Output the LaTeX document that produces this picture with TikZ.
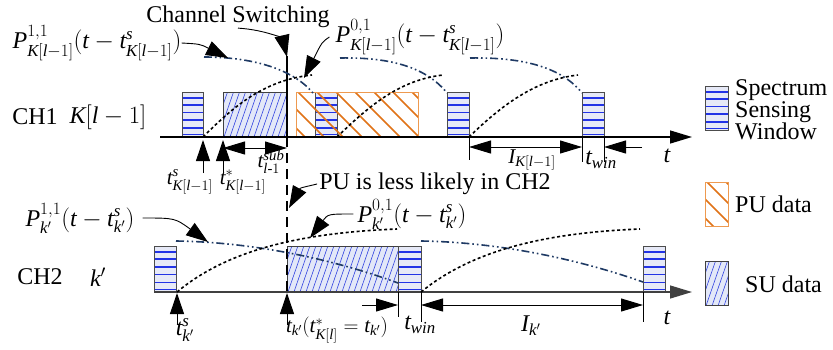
\documentclass[tikz,border=0pt]{standalone}
\usepackage{amsmath}
\usepackage{fontspec}
\setmainfont{Liberation Serif}
\usetikzlibrary{arrows.meta,calc}
\newcommand\vP{\mathit{P}}
\newcommand\vt{\mathit{t}}
\newcommand\vK{\mathit{K}}
\newcommand\vl{\mathit{l}}
\newcommand\vk{\mathit{k}}
\newcommand\vs{\mathit{s}}
\newcommand\vI{\mathit{I}}
\newcommand\vKl{\vK[\vl-1]}
\definecolor{sensefill}{HTML}{E6E9F7}
\definecolor{stripeblue}{HTML}{2233E6}
\definecolor{sufill}{HTML}{E3E8F8}
\definecolor{suline}{HTML}{3344E0}
\definecolor{puline}{HTML}{E07318}
\definecolor{puedge}{HTML}{EE9A50}
\definecolor{navy}{HTML}{1F3A64}
\begin{document}
\begin{tikzpicture}[x=1pt,y=-1pt,
  >={Triangle[length=22pt,width=13pt]},
  every node/.style={font=\fontsize{24}{26}\selectfont, inner sep=0pt},
  small/.style={font=\fontsize{21}{23}\selectfont},
  sensewin/.style={draw=black!70, line width=0.8pt, fill=sensefill, anchor=south west,
    minimum width=22pt, minimum height=44pt,
    path picture={\foreach \f in {0.05,0.2,0.38,0.55,0.72,0.88}{
      \draw[stripeblue, line width=1.5pt]
        ($(path picture bounding box.south west)!\f!(path picture bounding box.north west)$) --
        ($(path picture bounding box.south east)!\f!(path picture bounding box.north east)$);}}},
  suhatch/.style={draw=black!75, line width=0.8pt, fill=sufill, anchor=south west,
    minimum height=44pt,
    path picture={\foreach \i in {-4,...,22}{
      \draw[suline, line width=0.6pt] ($(path picture bounding box.south west)+(\i*6,2)$) -- ++(18,-52);}}},
  puhatch/.style={draw=puedge, line width=1pt, anchor=south west, minimum height=44pt,
    path picture={\foreach \i in {-3,...,8}{
      \draw[puline, line width=1.6pt] ($(path picture bounding box.north west)+(\i*19,-2)$) -- ++(52,52);}}},
  axisline/.style={line width=1.3pt, ->},
  tick/.style={line width=0.9pt},
  uparrow/.style={line width=1pt, -{Triangle[length=21pt,width=14pt]}},
  dimarrow/.style={line width=1pt, {Triangle[length=22pt,width=13pt]}-{Triangle[length=22pt,width=13pt]}},
  onearrow/.style={line width=1pt, -{Triangle[length=22pt,width=13pt]}},
  labarrow/.style={line width=0.9pt, -{Triangle[length=22pt,width=15pt]}},
  decay/.style={navy, line width=1.6pt, dash pattern=on 8pt off 3pt on 1.6pt off 3pt on 1.6pt off 3pt},
  rise/.style={black, line width=1.6pt, dash pattern=on 3pt off 2.5pt},
]
\path[use as bounding box] (0,0) rectangle (833,349);

% ---------- CH1 ----------
\node[sensewin, minimum width=21pt] (w1) at (182,137) {};
\node[suhatch, minimum width=64pt] (su1) at (223,137) {};
\node[draw=puedge, fill=white, line width=1pt, anchor=south west, minimum width=122pt, minimum height=44pt] (pub) at (296,137) {};
\node[sensewin] (w2) at (315,137) {};
\node[puhatch, minimum width=122pt] (pu1) at (296,137) {};
\node[sensewin] (w3) at (447,137) {};
\node[sensewin] (w4) at (582,137) {};

\coordinate (a1s) at (160,137);
\coordinate (a1e) at (692,137);
\draw[axisline] (a1s) -- (a1e);

% ---------- CH2 ----------
\node[sensewin, minimum width=22pt, minimum height=45pt] (v1) at (154,292) {};
\node[suhatch, minimum width=111pt, minimum height=45pt] (su2) at (287,292) {};
\node[sensewin, minimum width=23pt, minimum height=45pt] (v2) at (398,292) {};
\node[sensewin, minimum width=22pt, minimum height=45pt] (v3) at (643,292) {};

\coordinate (a2s) at (154,292);
\coordinate (a2e) at (692,292);
\draw[axisline, black!75] (a2s) -- (a2e);

% ---------- switching line ----------
\coordinate (swtop) at (287,56);
\coordinate (swmid) at (287,137);
\coordinate (swbot) at (287,292);
\draw[line width=2.4pt] (swtop) -- (swmid);
\draw[line width=2.4pt, dash pattern=on 10pt off 6pt] (swmid) -- (swbot);

% ---------- curves CH1 ----------
\coordinate (d1a) at (204,57);  \coordinate (d1b) at (313,93);
\coordinate (d2a) at (340,58);  \coordinate (d2b) at (447,93);
\coordinate (d3a) at (470,58);  \coordinate (d3b) at (582,93);
\draw[decay] (d1a) .. controls (250,57) and (292,68) .. (d1b);
\draw[decay] (d2a) .. controls (392,57) and (427,68) .. (d2b);
\draw[decay] (d3a) .. controls (525,57) and (562,68) .. (d3b);
\coordinate (r1a) at (203,137); \coordinate (r1b) at (312,75);
\coordinate (r2a) at (337,137); \coordinate (r2b) at (443,75);
\coordinate (r3a) at (469,137); \coordinate (r3b) at (578,75);
\draw[rise] (r1a) .. controls (235,105) and (265,80) .. (r1b);
\draw[rise] (r2a) .. controls (370,105) and (400,80) .. (r2b);
\draw[rise] (r3a) .. controls (502,105) and (535,80) .. (r3b);

% ---------- curves CH2 ----------
\coordinate (e1a) at (176,241); \coordinate (e1b) at (398,283);
\coordinate (e2a) at (421,241); \coordinate (e2b) at (643,282);
\draw[decay] (e1a) .. controls (250,242) and (330,258) .. (e1b);
\draw[decay] (e2a) .. controls (495,242) and (575,258) .. (e2b);
\coordinate (s1a) at (177,292); \coordinate (s1b) at (397,229);
\coordinate (s2a) at (421,292); \coordinate (s2b) at (640,229);
\draw[rise] (s1a) .. controls (225,252) and (295,233) .. (s1b);
\draw[rise] (s2a) .. controls (470,252) and (540,233) .. (s2b);

% ---------- CH1 time marks ----------
\coordinate (u1b) at (203,173); \coordinate (u1t) at (203,140);
\coordinate (u2b) at (223,173); \coordinate (u2t) at (223,140);
\draw[uparrow] (u1b) -- (u1t);
\draw[uparrow] (u2b) -- (u2t);
\coordinate (sub1) at (223,148); \coordinate (sub2) at (287,148);
\draw[dimarrow] (sub1) -- (sub2);
\coordinate (k1a) at (469,137); \coordinate (k1b) at (469,160);
\coordinate (k2a) at (582,137); \coordinate (k2b) at (582,162);
\coordinate (k3a) at (604,137); \coordinate (k3b) at (604,162);
\draw[tick] (k1a) -- (k1b);
\draw[tick] (k2a) -- (k2b);
\draw[tick] (k3a) -- (k3b);
\coordinate (i1a) at (469,147); \coordinate (i1b) at (582,147);
\draw[dimarrow] (i1a) -- (i1b);
\coordinate (tw1a) at (642,147); \coordinate (tw1b) at (604,147);
\draw[onearrow] (tw1a) -- (tw1b);

% ---------- CH2 time marks ----------
\coordinate (u3b) at (177,325); \coordinate (u3t) at (177,293);
\coordinate (u4b) at (287,325); \coordinate (u4t) at (287,293);
\draw[uparrow] (u3b) -- (u3t);
\draw[uparrow] (u4b) -- (u4t);
\coordinate (m1a) at (398,292); \coordinate (m1b) at (398,317);
\coordinate (m2a) at (421,292); \coordinate (m2b) at (421,322);
\coordinate (m3a) at (643,292); \coordinate (m3b) at (643,322);
\draw[tick] (m1a) -- (m1b);
\draw[tick] (m2a) -- (m2b);
\draw[tick] (m3a) -- (m3b);
\coordinate (tw2a) at (362,305); \coordinate (tw2b) at (398,305);
\draw[onearrow] (tw2a) -- (tw2b);
\coordinate (i2a) at (421,305); \coordinate (i2b) at (643,305);
\draw[dimarrow] (i2a) -- (i2b);

% ---------- labels ----------
\node (chs) at (238,17) {Channel Switching};
\node (p11a) at (97,43) {$\vP^{1,1}_{\vKl}(\vt-\vt^{\vs}_{\vKl})$};
\node (p01a) at (420,37) {$\vP^{0,1}_{\vKl}(\vt-\vt^{\vs}_{\vKl})$};
\node (ch1) at (35,117) {CH1};
\node (k1) at (108,117) {$\vKl$};
\node[small] (ts1) at (190,182) {$\vt^{\vs}_{\vKl}$};
\node[small] (tst1) at (243,182) {$\vt^{*}_{\vKl}$};
\node[small] (tsub) at (271,162) {$\vt^{\mathit{sub}}_{\vl\text{-}1}$};
\node[small] (ik1) at (532,160) {$\vI_{\vKl}$};
\node (twin1) at (601,160) {$\vt_{\mathit{win}}$};
\node (tt1) at (667,156) {$\vt$};

\node (pul) at (435,184) {PU is less likely in CH2};
\node (p01b) at (412,214) {$\vP^{0,1}_{\vk'}(\vt-\vt^{\vs}_{\vk'})$};
\node (p11b) at (80,218) {$\vP^{1,1}_{\vk'}(\vt-\vt^{\vs}_{\vk'})$};
\node (ch2) at (40,277) {CH2};
\node (k2) at (98,277) {$\vk'$};
\node (ts2) at (185,330) {$\vt^{\vs}_{\vk'}$};
\node[small] (tk2) at (337,330) {$\vt_{\vk'}(\vt^{*}_{\vK[\vl]}=\vt_{\vk'})$};
\node (twin2) at (420,325) {$\vt_{\mathit{win}}$};
\node (ik2) at (531,326) {$\vI_{\vk'}$};
\node (tt2) at (667,318) {$\vt$};

% ---------- label arrows ----------
\coordinate (chsT) at (287,57);
\draw[labarrow] (chs.south) .. controls (268,30) and (283,40) .. (chsT);
\coordinate (p11aT) at (228,58);
\draw[labarrow] (p11a.east) .. controls (200,44) .. (p11aT);
\coordinate (p01aT) at (304,78);
\draw[labarrow] ([xshift=-6pt]p01a.west) .. controls (322,42) .. (p01aT);
\coordinate (pulT) at (289,208);
\draw[labarrow] ([xshift=-2pt]pul.west) .. controls (300,188) .. (pulT);
\coordinate (p11bT) at (208,242);
\draw[labarrow] ([xshift=8pt]p11b.east) .. controls (175,218) .. (p11bT);
\coordinate (p01bT) at (310,238);
\draw[labarrow] ([xshift=-4pt]p01b.west) .. controls (328,214) .. (p01bT);

% ---------- legend ----------
\node[sensewin, minimum width=23pt, minimum height=44pt] (lg1) at (705,131) {};
\node[anchor=west, align=left, font=\fontsize{24}{22}\selectfont] (lg1t) at (735,110) {Spectrum\\Sensing\\Window};
\node[draw=puedge, fill=white, line width=1pt, anchor=south west, minimum width=23pt, minimum height=44pt] (lg2b) at (705,227) {};
\node[puhatch, minimum width=23pt] (lg2) at (705,227) {};
\node[anchor=west] (lg2t) at (735,204) {PU data};
\node[suhatch, minimum width=23pt] (lg3) at (705,306) {};
\node[anchor=west] (lg3t) at (745,284) {SU data};
\end{tikzpicture}
\end{document}
